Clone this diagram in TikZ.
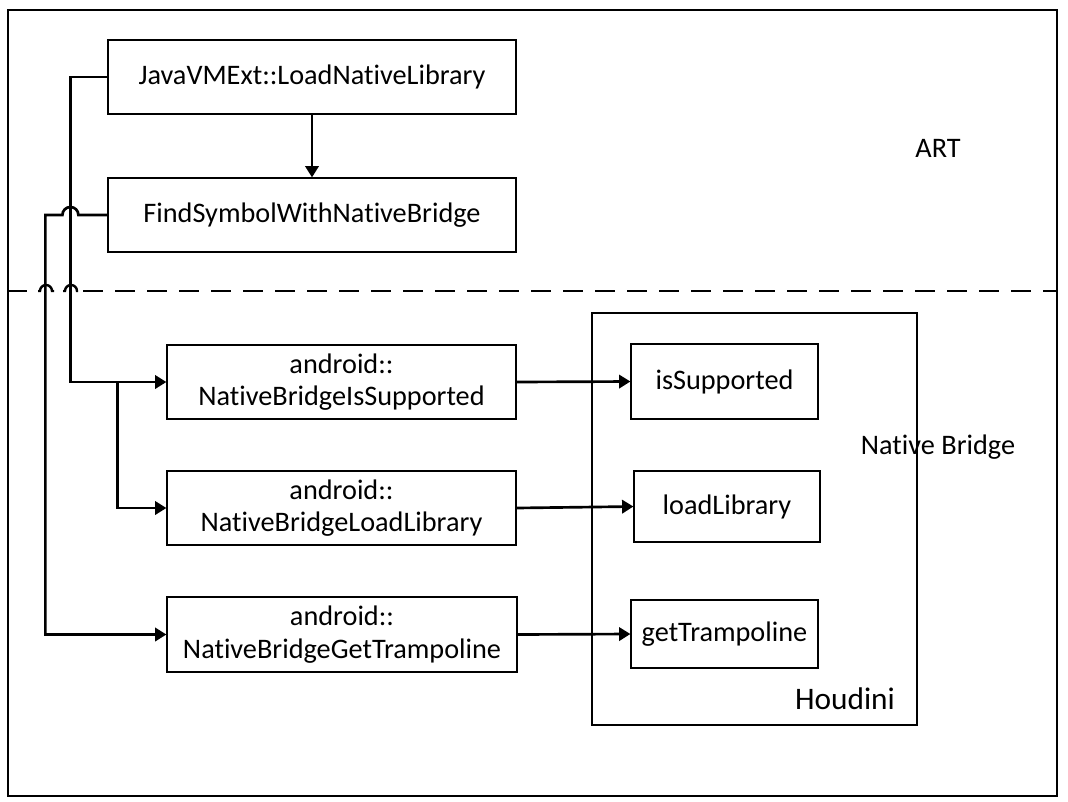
\documentclass[tikz,border=0pt]{standalone}
\usepackage{fontspec}
\setmainfont{Carlito}[RawFeature={-liga;-clig;-dlig;-calt}]
\usetikzlibrary{arrows.meta}
\begin{document}
\begin{tikzpicture}[x=0.75pt,y=-0.75pt,
  txt/.style={font=\fontsize{21.2}{24.5}\selectfont},
  box/.style={draw,line width=0.9pt,inner sep=0pt,align=center,txt},
  sz/.style 2 args={minimum width=#1*0.75pt,minimum height=#2*0.75pt},
  conn/.style={line width=2pt},
  arr/.style={conn,-{Triangle[length=8.5pt,width=10pt]}},
  sep/.style={line width=1.8pt}]
\useasboundingbox (0,0) rectangle (1068,801);
\draw[line width=0.9pt] (8,10) rectangle (1057,796);

% ART side
\node[box,sz={408}{74}] (jv) at (312,77) {JavaVMExt::LoadNativeLibrary};
\node[box,sz={408}{74}] (fs) at (312,215) {FindSymbolWithNativeBridge};
\node[txt] (art) at (938,148) {ART};

% separator with hops
\draw[sep] (8,291) -- (27,291);
\draw[sep] (38,291) -- (40,291) arc[start angle=180,end angle=0,radius=4.5pt] -- (54,291);
\draw[sep] (63,291) -- (65,291) arc[start angle=180,end angle=0,radius=4.5pt] -- (78,291);
\draw[sep,dash pattern=on 15pt off 9pt] (83,291) -- (1057,291);

% native bridge calls
\node[box,sz={349}{74}] (nis) at (341.5,382) {android::\\NativeBridgeIsSupported};
\node[box,sz={349}{74}] (nll) at (341.5,508) {android::\\NativeBridgeLoadLibrary};
\node[box,sz={350}{75}] (ngt) at (342,634.5) {android::\\NativeBridgeGetTrampoline};

% Houdini
\node[draw,line width=0.9pt,sz={325}{412}] (hb) at (754.5,519) {};
\node[box,sz={187}{75}] (is) at (724.5,381.5) {isSupported};
\node[box,sz={186}{71}] (ll) at (727,506.5) {loadLibrary};
\node[box,sz={187}{68}] (gt) at (724.5,634) {getTrampoline};
\node[txt] (nb) at (938,447) {Native Bridge};
\node[font=\fontsize{23.5}{27}\selectfont] (hd) at (845,699) {Houdini};

% connectors
\draw[arr] (jv.south) -- (fs.north);
\draw[arr] (jv.west) -- ++(-37,0) |- (nis.west);
\coordinate (br) at ([xshift=-36.75pt]nis.west);
\draw[arr] (br) |- (nll.west);
\draw[arr] (fs.west) -- ++(-29,0) arc[start angle=0,end angle=180,radius=6pt] -- ++(-17,0) |- (ngt.west);
\draw[arr] (nis.east) -- (is.west);
\draw[arr] (nll.east) -- (ll.west);
\draw[arr] (ngt.east) -- (gt.west);
\end{tikzpicture}
\end{document}
